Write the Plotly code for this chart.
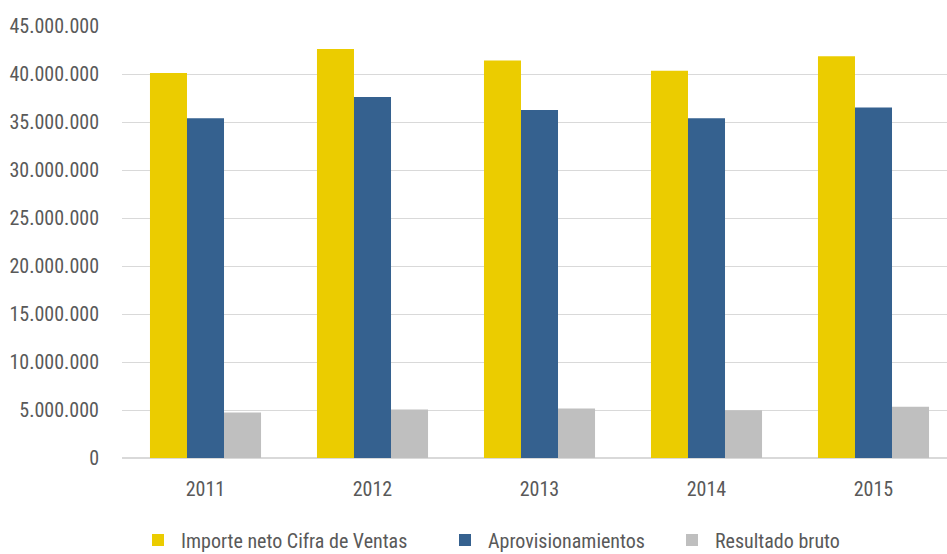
import plotly.graph_objects as go

# Annual figures (EUR)
years = ["2011", "2012", "2013", "2014", "2015"]
ventas = [40100000, 42600000, 41400000, 40350000, 41850000]
aprovisionamientos = [35400000, 37600000, 36250000, 35400000, 36500000]
resultado_bruto = [4750000, 5050000, 5150000, 4970000, 5350000]

series_names = ["Importe neto Cifra de Ventas", "Aprovisionamientos", "Resultado bruto"]
series_values = [ventas, aprovisionamientos, resultado_bruto]
colors = ["#EBCC00", "#35618F", "#BFBFBF"]

y_ticks = list(range(0, 45000001, 5000000))

FONT = "Roboto Condensed, Liberation Sans Narrow, Roboto, sans-serif"
TEXT = "#595959"
FS = 20

W, H = 947, 554
ML, MR, MT, MB = 122, 0, 26, 96
plot_w = W - ML - MR
plot_h = H - MT - MB

fig = go.Figure()
legend_ids = ["legend", "legend2", "legend3"]
for name, vals, col, lg in zip(series_names, series_values, colors, legend_ids):
    fig.add_trace(go.Bar(
        x=years, y=vals, name=name,
        marker=dict(color=col, line=dict(width=0)),
        legend=lg,
    ))

# each legend entry positioned on its own (pixel x of entry start)
legend_px = [135, 442, 669]
legend_y = -(540 - (H - MB)) / plot_h
legends = {}
for lg, px in zip(legend_ids, legend_px):
    legends[lg] = dict(
        x=(px - ML) / plot_w, y=legend_y, xanchor="left", yanchor="middle",
        orientation="h", bgcolor="rgba(0,0,0,0)", borderwidth=0,
        itemwidth=36,
        font=dict(family=FONT, size=FS, color=TEXT),
    )

cat_px = 167.0
fig.update_layout(
    width=W, height=H,
    margin=dict(l=ML, r=MR, t=MT, b=MB, pad=0, autoexpand=False),
    paper_bgcolor="white", plot_bgcolor="white",
    barmode="group", bargap=0.335, bargroupgap=0,
    separators=",.",
    font=dict(family=FONT, size=FS, color=TEXT),
    xaxis=dict(
        type="category",
        range=[-0.5, -0.5 + plot_w / cat_px],
        showgrid=False, zeroline=False, showline=False,
        ticks="", ticklabelstandoff=17,
        tickfont=dict(family=FONT, size=FS, color=TEXT),
    ),
    yaxis=dict(
        range=[0, 45000000],
        tickvals=y_ticks, tickformat=",d",
        showgrid=True, gridcolor="#D9D9D9", gridwidth=1,
        zeroline=True, zerolinecolor="#D9D9D9", zerolinewidth=1.5,
        showline=False, ticks="", ticklabelstandoff=22,
        tickfont=dict(family=FONT, size=FS, color=TEXT),
    ),
    showlegend=True,
    **legends,
)

fig.write_html("out.html")
